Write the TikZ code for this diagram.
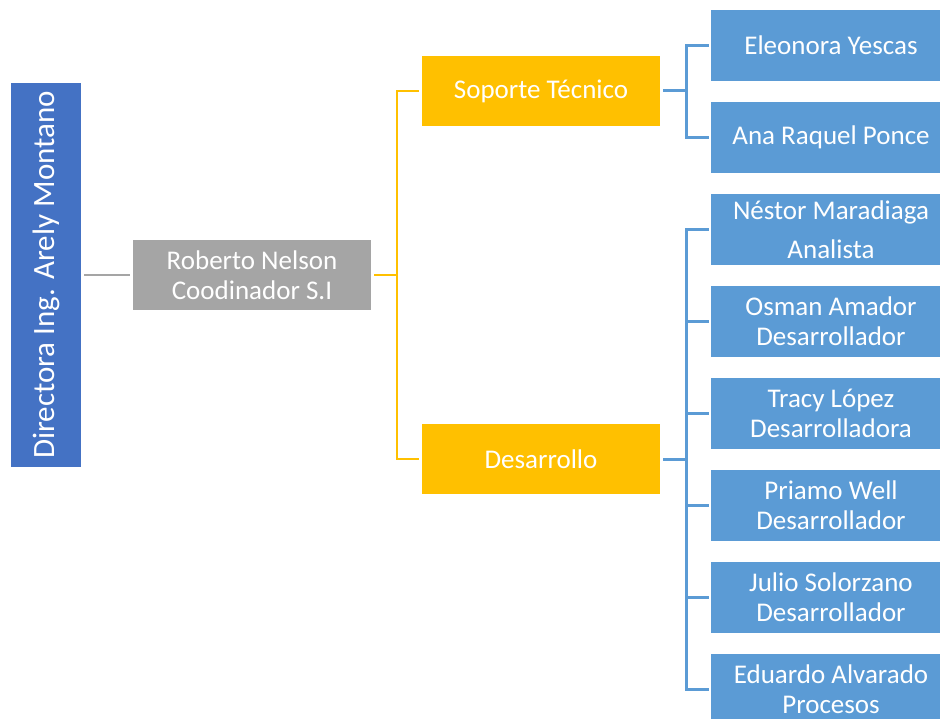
\documentclass[tikz,border=0pt]{standalone}
\usepackage{fontspec}
\setmainfont{Carlito}
\usepackage{tikz}
\usetikzlibrary{positioning,calc}
\definecolor{dirblue}{HTML}{4472C4}
\definecolor{boxgray}{HTML}{A5A5A5}
\definecolor{boxgold}{HTML}{FFC000}
\definecolor{boxblue}{HTML}{5B9BD5}
\tikzset{
  unit/.style={text=white, align=center, inner sep=0pt, font=\fontsize{27}{30}\selectfont},
  dirbox/.style={unit, fill=dirblue, rotate=90, minimum width=384, minimum height=70, font=\fontsize{31}{36}\selectfont},
  headbox/.style={unit, fill=boxgray, minimum width=238, minimum height=70},
  areabox/.style={unit, fill=boxgold, minimum width=238, minimum height=70},
  staffbox/.style={unit, fill=boxblue, minimum width=240, minimum height=71},
  grayline/.style={draw=boxgray, line width=2.5pt, shorten <=3pt, shorten >=3pt},
  goldline/.style={draw=boxgold, line width=2.5pt, shorten <=3pt, shorten >=3pt},
  blueline/.style={draw=boxblue, line width=3pt, shorten <=3pt, shorten >=2pt}
}
\begin{document}
\begin{tikzpicture}[x=1pt, y=-1pt]
  \useasboundingbox (0,0) rectangle (940,719);

  % Define nodes
  \node[dirbox] (dir) at (46, 275) {Directora Ing. Arely Montano};
  \node[headbox] (rob) at (252, 275) {Roberto Nelson\\Coodinador S.I};
  \node[areabox] (sop) at (541, 91) {Soporte Técnico};
  \node[areabox] (des) at (541, 459) {Desarrollo};
  \node[staffbox] (s1) at (831, 45.5) {Eleonora Yescas};
  \node[staffbox] (s2) at (831, 137.5) {Ana Raquel Ponce};
  \node[staffbox, font=\fontsize{27}{39}\selectfont] (d1) at (831, 229.5) {Néstor Maradiaga\\Analista};
  \node[staffbox] (d2) at (831, 321.5) {Osman Amador\\Desarrollador};
  \node[staffbox] (d3) at (831, 413.5) {Tracy López\\Desarrolladora};
  \node[staffbox] (d4) at (831, 505.5) {Priamo Well\\Desarrollador};
  \node[staffbox] (d5) at (831, 597.5) {Julio Solorzano\\Desarrollador};
  \node[staffbox] (d6) at (831, 689.5) {Eduardo Alvarado\\Procesos};

  % Fork points
  \coordinate (forkA) at (397, 275);
  \coordinate (forkB) at (686, 91);
  \coordinate (forkC) at (686, 459);

  % Draw connectors
  \draw[grayline] (dir) -- (rob);
  \draw[goldline] (rob) -- (forkA) |- (sop);
  \draw[goldline] (rob) -- (forkA) |- (des);
  \foreach \s in {s1,s2}
    \draw[blueline] (sop) -- (forkB) |- (\s);
  \foreach \d in {d1,d2,d3,d4,d5,d6}
    \draw[blueline] (des) -- (forkC) |- (\d);
\end{tikzpicture}
\end{document}
